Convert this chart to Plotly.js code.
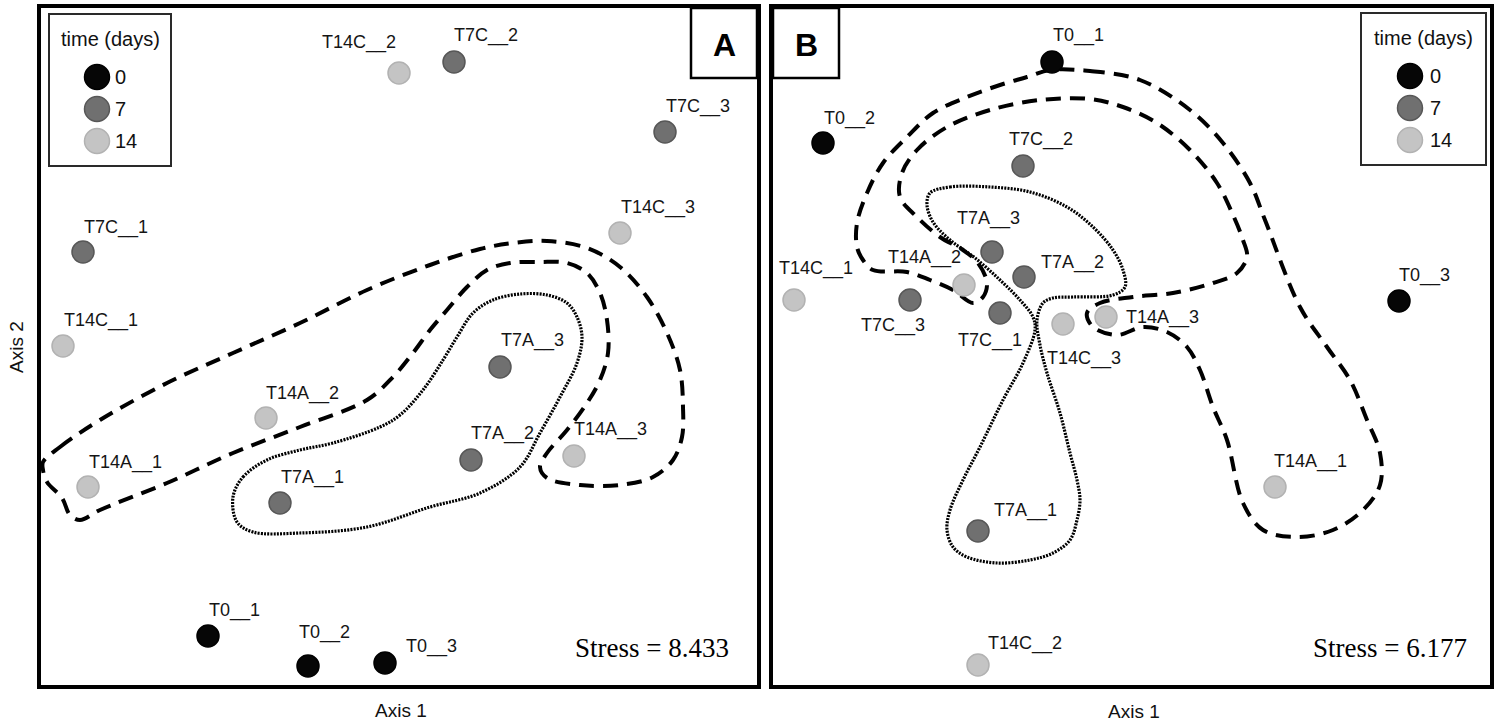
<!DOCTYPE html>
<html><head><meta charset="utf-8">
<script src="https://cdn.plot.ly/plotly-3.0.1.min.js"></script>
<style>html,body{margin:0;padding:0;background:#fff}#chart{width:1500px;height:725px}</style>
</head><body><div id="chart"></div>
<script>
// ---------- data (NMDS scores, arbitrary axis units) ----------
const sampleNames = ['T0__1','T0__2','T0__3','T7C__1','T7C__2','T7C__3','T7A__1','T7A__2','T7A__3','T14C__1','T14C__2','T14C__3','T14A__1','T14A__2','T14A__3'];
const timeDays = [0,0,0,7,7,7,7,7,7,14,14,14,14,14,14];
const timeLevels = [0,7,14];
const axis1A = [1.68,2.68,3.45,0.43,4.14,6.25,2.40,4.31,4.60,0.23,3.59,5.80,0.48,2.26,5.34];
const axis2A = [0.50,0.20,0.23,4.34,6.24,5.54,1.83,2.26,3.19,3.40,6.13,4.53,1.99,2.68,2.30];
const axis1B = [2.80,0.51,6.27,2.28,2.51,1.38,2.06,2.52,2.20,0.22,2.06,2.91,5.03,1.92,3.34];
const axis2B = [6.24,5.43,3.85,3.73,5.20,3.86,1.55,4.09,4.34,3.86,0.21,3.62,1.99,4.01,3.69];
const stressA = '8.433';
const stressB = '6.177';

// hull outlines (T14A group dashed, T7A group dotted)
const hullA_T14A_x = [0.03,0.20,0.60,1.27,1.93,2.60,3.27,3.90,4.40,4.73,5.07,5.47,5.80,6.07,6.27,6.40,6.43,6.42,6.33,6.13,5.80,5.40,5.07,5.00,5.07,5.27,5.47,5.60,5.68,5.67,5.60,5.47,5.27,5.00,4.70,4.47,4.27,4.07,3.90,3.73,3.53,3.27,2.60,1.93,1.27,0.60,0.40,0.30,0.22,0.07,0.03,0.03];
const hullA_T14A_y = [2.24,2.39,2.66,3.03,3.33,3.63,3.96,4.21,4.37,4.43,4.45,4.38,4.19,3.89,3.53,3.16,2.79,2.49,2.26,2.09,2.01,2.01,2.08,2.19,2.33,2.56,2.83,3.06,3.33,3.66,3.93,4.13,4.23,4.24,4.23,4.16,3.99,3.76,3.56,3.33,3.09,2.86,2.59,2.33,2.03,1.76,1.66,1.71,1.88,2.04,2.16,2.24];
const hullA_T7A_x = [1.93,2.03,2.27,2.60,2.93,3.40,3.60,3.83,4.03,4.17,4.33,4.53,4.80,5.07,5.27,5.37,5.42,5.37,5.20,5.00,4.80,4.40,3.90,3.27,2.60,2.13,1.97,1.93];
const hullA_T7A_y = [1.89,2.09,2.26,2.36,2.43,2.59,2.71,2.96,3.26,3.49,3.73,3.86,3.92,3.91,3.83,3.69,3.49,3.23,2.89,2.53,2.19,1.93,1.79,1.59,1.53,1.54,1.64,1.89];
const hullB_T14A_x = [2.78,3.18,3.68,4.18,4.51,4.78,4.93,5.28,5.55,5.78,5.95,6.08,6.08,5.91,5.61,5.25,4.91,4.71,4.55,4.41,4.28,4.15,3.95,3.71,3.45,3.21,3.15,3.28,3.61,4.01,4.41,4.65,4.75,4.71,4.61,4.45,4.18,3.85,3.51,3.18,2.68,2.18,1.75,1.45,1.30,1.28,1.45,1.68,1.91,2.06,2.15,2.11,2.01,1.81,1.58,1.35,1.01,0.91,0.85,0.85,0.95,1.11,1.35,1.61,1.95,2.28,2.55,2.78];
const hullB_T14A_y = [6.16,6.15,6.06,5.76,5.43,5.03,4.66,3.79,3.39,3.06,2.66,2.33,2.01,1.76,1.56,1.49,1.56,1.83,2.46,2.79,3.16,3.39,3.54,3.59,3.51,3.59,3.73,3.83,3.89,3.93,4.03,4.13,4.29,4.46,4.71,5.03,5.36,5.63,5.79,5.87,5.86,5.76,5.59,5.36,5.13,4.89,4.69,4.49,4.36,4.23,4.03,3.89,3.83,3.96,4.06,4.14,4.16,4.26,4.39,4.63,4.93,5.23,5.49,5.73,5.89,6.01,6.09,6.16];
const hullB_T7A_x = [1.58,1.78,2.18,2.58,2.95,3.21,3.41,3.51,3.53,3.41,3.01,2.81,2.71,2.65,2.68,2.75,2.88,2.98,3.05,3.08,3.05,2.98,2.81,2.58,2.25,1.95,1.81,1.75,1.78,1.91,2.08,2.31,2.51,2.63,2.61,2.48,2.28,2.03,1.78,1.61,1.55,1.58];
const hullB_T7A_y = [4.93,4.99,4.99,4.94,4.79,4.59,4.36,4.16,3.99,3.91,3.89,3.88,3.83,3.66,3.41,3.13,2.73,2.33,2.06,1.86,1.66,1.46,1.33,1.26,1.23,1.29,1.39,1.56,1.76,2.06,2.39,2.86,3.23,3.56,3.69,3.86,4.06,4.28,4.46,4.64,4.81,4.93];

// ---------- styling / placement ----------
const W = 1500, H = 725;
const PX = x => x / W, PY = y => 1 - y / H;
const fill = {0: '#060606', 7: '#707070', 14: '#c4c4c4'};
const ring = {0: '#000000', 7: '#575757', 14: '#b2b2b2'};
const labelFont = {family: 'Liberation Sans, Arial, sans-serif', size: 18, color: '#151515'};
// [anchor, dx, dy] label offsets in pixels
const labelPosA = [['l',0,-26],['l',-10,-34],['l',20,-17],['l',0,-25],['l',-1,-27],['l',0,-26],['l',0,-26],['l',-1,-27],['l',0,-27],['l',0,-26],['r',-2,-31],['l',0,-26],['l',0,-25],['l',-1,-25],['l',-1,-27]];
const labelPosB = [['l',0,-27],['l',0,-25],['l',-1,-26],['c',-10,27],['l',-15,-27],['c',-17,25],['l',15,-21],['l',16,-15],['c',-4,-34],['l',-16,-32],['l',9,-22],['c',21,34],['l',-2,-26],['r',-2,-28],['l',19,0]];

const traces = [];
function addPanel(xs, ys, xa, ya) {
  timeLevels.forEach(t => {
    const idx = timeDays.map((d, i) => d === t ? i : -1).filter(i => i >= 0);
    traces.push({
      type: 'scatter', mode: 'markers', xaxis: xa, yaxis: ya, showlegend: false,
      x: idx.map(i => xs[i]), y: idx.map(i => ys[i]), hoverinfo: 'skip',
      marker: {size: 22, color: fill[t], line: {color: ring[t], width: 1.5}}
    });
  });
}
function addHull(hx, hy, xa, ya, dash, width) {
  traces.push({type: 'scatter', mode: 'lines', xaxis: xa, yaxis: ya, showlegend: false, hoverinfo: 'skip',
    x: hx, y: hy, line: {shape: 'spline', smoothing: 1, color: '#000', width: width, dash: dash}});
}
addHull(hullA_T14A_x, hullA_T14A_y, 'x', 'y', '15px,9px', 4);
addHull(hullA_T7A_x, hullA_T7A_y, 'x', 'y', '2px,1.2px', 3.2);
addHull(hullB_T14A_x, hullB_T14A_y, 'x2', 'y2', '15px,9px', 4);
addHull(hullB_T7A_x, hullB_T7A_y, 'x2', 'y2', '2px,1.2px', 3.2);
addPanel(axis1A, axis2A, 'x', 'y');
addPanel(axis1B, axis2B, 'x2', 'y2');

const annotations = [];
function addLabels(xs, ys, pos, xr, yr) {
  sampleNames.forEach((n, i) => {
    const [a, dx, dy] = pos[i];
    annotations.push({x: xs[i], y: ys[i], xref: xr, yref: yr, text: n, showarrow: false,
      xanchor: a === 'l' ? 'left' : (a === 'r' ? 'right' : 'center'), yanchor: 'middle',
      xshift: dx, yshift: -dy, font: labelFont, borderpad: 0});
  });
}
addLabels(axis1A, axis2A, labelPosA, 'x', 'y');
addLabels(axis1B, axis2B, labelPosB, 'x2', 'y2');

const paperText = (x, y, text, font, extra) => Object.assign({x: PX(x), y: PY(y), xref: 'paper', yref: 'paper', text: text,
  showarrow: false, xanchor: 'center', yanchor: 'middle', font: font, borderpad: 0}, extra || {});
const sans = s => ({family: 'Liberation Sans, Arial, sans-serif', size: s, color: '#111'});
const serif = {family: 'Liberation Serif, Times New Roman, serif', size: 27, color: '#000'};
annotations.push(paperText(730, 648, 'Stress = ' + stressA, serif, {xanchor: 'right'}));
annotations.push(paperText(1468, 648, 'Stress = ' + stressB, serif, {xanchor: 'right'}));
annotations.push(paperText(401, 710, 'Axis 1', sans(19)));
annotations.push(paperText(1134, 711, 'Axis 1', sans(19)));
annotations.push(paperText(17, 347, 'Axis 2', sans(19), {textangle: -90}));
annotations.push(paperText(724, 45, '<b>A</b>', {family: 'Liberation Sans, Arial, sans-serif', size: 32, color: '#000'}));
annotations.push(paperText(806, 45, '<b>B</b>', {family: 'Liberation Sans, Arial, sans-serif', size: 32, color: '#000'}));

const shapes = [];
const rect = (x0, y0, x1, y1, w, c) => ({type: 'rect', xref: 'paper', yref: 'paper', x0: PX(x0), x1: PX(x1), y0: PY(y1), y1: PY(y0),
  line: {color: c, width: w}, fillcolor: 'rgba(0,0,0,0)', layer: 'above'});
shapes.push(rect(691, 8, 757, 78, 2.5, '#000'));
shapes.push(rect(773, 8, 839, 78, 2.5, '#000'));
// legends
function addLegend(x0, y0, x1, y1, cx, tx) {
  shapes.push(rect(x0, y0, x1, y1, 2, '#2a2a2a'));
  annotations.push(paperText((x0 + x1) / 2, y0 + 25, 'time (days)', sans(20)));
  timeLevels.forEach((t, k) => {
    const cy = y0 + 63 + k * 32, r = 12.5;
    shapes.push({type: 'circle', xref: 'paper', yref: 'paper', x0: PX(cx - r), x1: PX(cx + r), y0: PY(cy + r), y1: PY(cy - r),
      fillcolor: fill[t], line: {color: ring[t], width: 1.5}, layer: 'above'});
    annotations.push(paperText(tx, cy, String(t), sans(20), {xanchor: 'left'}));
  });
}
addLegend(49, 14, 171, 166, 97, 114);
addLegend(1361, 13, 1486, 165, 1410, 1429);

const axBase = {showgrid: false, zeroline: false, showticklabels: false, ticks: '', showline: true, mirror: true,
  linecolor: '#000', linewidth: 4, autorange: false, fixedrange: true};
const layout = {
  width: W, height: H, margin: {l: 0, r: 0, t: 0, b: 0}, paper_bgcolor: '#fff', plot_bgcolor: '#fff', showlegend: false,
  xaxis: Object.assign({}, axBase, {domain: [PX(41), PX(757)], range: [0.01, 7.17]}),
  yaxis: Object.assign({}, axBase, {domain: [PY(685), PY(8)], range: [0.01, 6.78]}),
  xaxis2: Object.assign({}, axBase, {domain: [PX(773), PX(1490)], range: [0.01, 7.18], anchor: 'y2'}),
  yaxis2: Object.assign({}, axBase, {domain: [PY(685), PY(8)], range: [0.01, 6.78], anchor: 'x2'}),
  annotations: annotations, shapes: shapes
};
Plotly.newPlot('chart', traces, layout, {staticPlot: true, displayModeBar: false});
</script></body></html>
